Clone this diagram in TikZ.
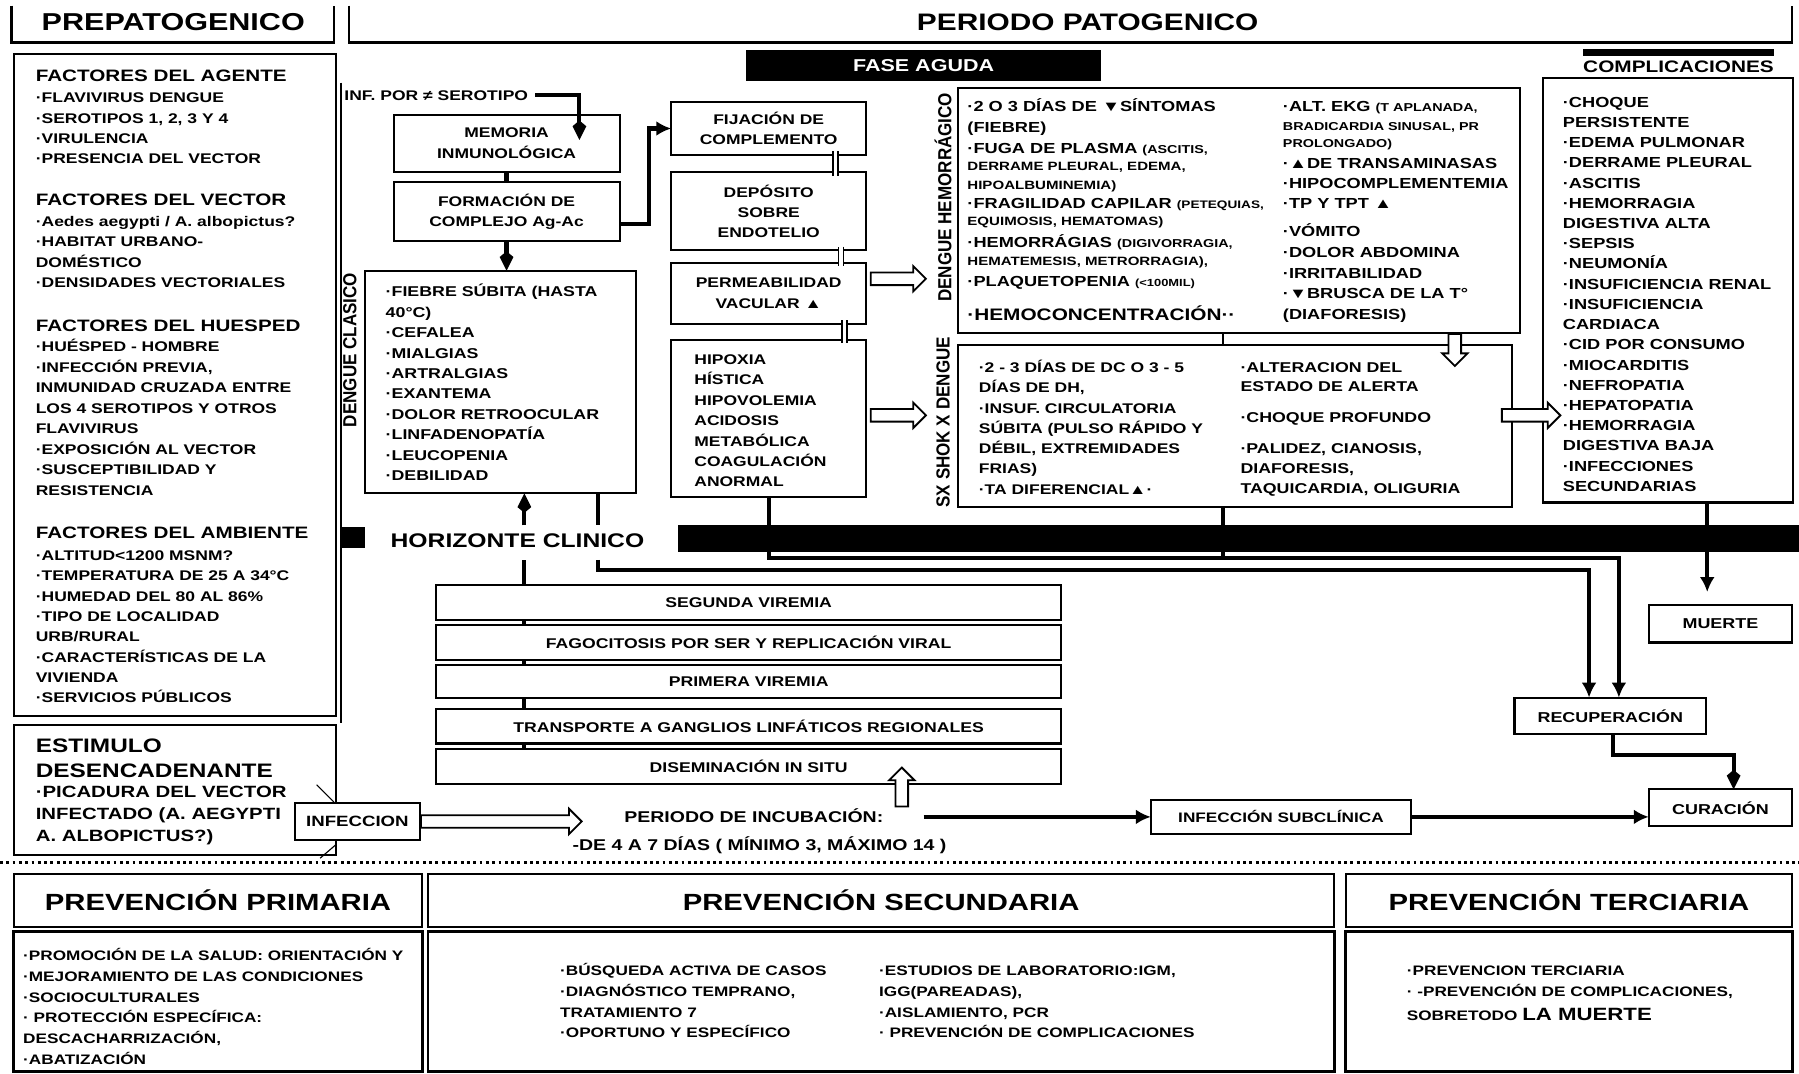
\documentclass[tikz,border=0pt]{standalone}
\usepackage{fontspec}
\setmainfont{Liberation Sans}[FakeStretch=1.25]
\newfontfamily\condf{Liberation Sans}[FakeStretch=0.9]
\usetikzlibrary{arrows.meta,shapes.arrows}
\newcommand\fz[2]{\fontsize{#1}{#2}\selectfont\bfseries}
\tikzset{
  bxs/.style={draw,line width=1.8pt,inner sep=0pt,outer sep=0pt,anchor=north west,align=center},
  thk/.style={line width=3.6pt},
  thn/.style={line width=2.4pt},
  tipL/.style={-{Latex[length=13pt,width=13pt]}},
  tipK/.style={-{Kite[length=17pt,width=12pt,inset=5pt]}},
  harr/.style={single arrow,draw,fill=white,line width=1.6pt,inner sep=2.2pt,single arrow head extend=5.5pt,outer sep=0pt},
  dbl/.style={double,double distance=3pt,line width=1.4pt,shorten <=-3pt,shorten >=-3pt},
  vlab/.style={rotate=90,inner sep=0pt,font=\condf\fontsize{16.5}{16.5}\selectfont\bfseries},
}
\newcommand\tln[5]{\node[anchor=base west,inner sep=0pt,font=\fz{#4}{#4}] (#1) at (#2,{#3+0.358*#4}) {#5};}
\newcommand\blk[6]{\node[anchor=north west,inner sep=0pt,align=left,font=\fz{#4}{#5}] (#1) at (#2,{#3+0.358*#4-#4}) {\rule{0pt}{#4pt}#6};}
\newcommand\bx[6][]{\node[bxs,minimum width={#5-#3},minimum height={#6-#4},#1] (#2) at (#3,#4) {};}
\newcommand\bxt[7][]{\node[bxs,minimum width={#5-#3},minimum height={#6-#4},#1] (#2) at (#3,#4) {#7};}
\begin{document}
\begin{tikzpicture}[x=1pt,y=-1pt]
\useasboundingbox (0,0) rectangle (1568,936);
% ---------- headers
\draw[line width=2.2pt] (10,5) -- (10,37) -- (291,37) -- (291,5);
\draw[line width=2.2pt] (304,5) -- (304,37) -- (1562,37) -- (1562,5);
\node[font=\fz{21.3}{21.3}] (prep) at (151,19) {PREPATOGENICO};
\node[font=\fz{20.8}{20.8}] (pato) at (948,19) {PERIODO PATOGENICO};
% ---------- factors
\bx{fac}{12}{47}{293}{624}
\blk{fa1}{31}{66}{14.4}{17}{FACTORES DEL AGENTE}
\blk{fa2}{31}{85}{12.2}{17.7}{·FLAVIVIRUS DENGUE\\·SEROTIPOS 1, 2, 3 Y 4\\·VIRULENCIA\\·PRESENCIA DEL VECTOR}
\blk{fv1}{31}{174}{14.4}{17}{FACTORES DEL VECTOR}
\blk{fv2}{31}{193}{12.2}{17.7}{·Aedes aegypti / A. albopictus?\\·HABITAT URBANO-\\DOMÉSTICO\\·DENSIDADES VECTORIALES}
\blk{fh1}{31}{284}{14.4}{17}{FACTORES DEL HUESPED}
\blk{fh2}{31}{302}{12.2}{17.86}{·HUÉSPED - HOMBRE\\·INFECCIÓN PREVIA,\\INMUNIDAD CRUZADA ENTRE\\LOS 4 SEROTIPOS Y OTROS\\FLAVIVIRUS\\·EXPOSICIÓN AL VECTOR\\·SUSCEPTIBILIDAD Y\\RESISTENCIA}
\blk{fm1}{31}{464}{14.4}{17}{FACTORES DEL AMBIENTE}
\blk{fm2}{31}{484}{12.2}{17.7}{·ALTITUD<1200 MSNM?\\·TEMPERATURA DE 25 A 34°C\\·HUMEDAD DEL 80 AL 86\%\\·TIPO DE LOCALIDAD\\URB/RURAL\\·CARACTERÍSTICAS DE LA\\VIVIENDA\\·SERVICIOS PÚBLICOS}
% ---------- estimulo
\bx{est}{12}{632}{293}{745}
\blk{es1}{31}{650}{17}{21}{ESTIMULO\\DESENCADENANTE}
\blk{es2}{31}{690}{14.2}{19}{·PICADURA DEL VECTOR\\INFECTADO (A. AEGYPTI\\A. ALBOPICTUS?)}
\bxt[fill=white,font=\fz{13}{13}]{infb}{257}{700}{366}{732}{INFECCION}
\draw[line width=1pt] (276,684) -- (291,699);
\draw[line width=1pt] (279,748) -- (293,736);
\draw[line width=2pt] (297,72) -- (297,630);
% ---------- immunology chain
\node[anchor=west,inner sep=0pt,font=\fz{12.2}{12.2}] (infp) at (300,83) {INF. POR ≠ SEROTIPO};
\bxt[font=\fz{12.2}{18}]{mem}{343}{100}{540}{150}{MEMORIA\\INMUNOLÓGICA}
\bxt[font=\fz{12.2}{18}]{form}{343}{159}{540}{210}{FORMACIÓN DE\\COMPLEJO Ag-Ac}
\bxt[font=\fz{12.2}{18}]{fij}{585}{89}{755}{135}{FIJACIÓN DE\\COMPLEMENTO}
\bxt[font=\fz{12.2}{17.5}]{dep}{585}{150}{755}{218}{DEPÓSITO\\SOBRE\\ENDOTELIO}
\bxt[font=\fz{12.2}{18}]{perm}{585}{229}{755}{282}{PERMEABILIDAD\\VACULAR ▲}
\bx{hip}{585}{296}{755}{433}
\blk{hipt}{605}{313}{12.2}{17.8}{HIPOXIA\\HÍSTICA\\HIPOVOLEMIA\\ACIDOSIS\\METABÓLICA\\COAGULACIÓN\\ANORMAL}
\coordinate (ip1) at (505,80);
\coordinate (ip2) at (505,122);
\draw[thk,tipK] (infp.east) ++(6,0) -- (infp.east -| ip1) -- (ip2);
\draw[thk] (mem.south) -- (form.north);
\coordinate (fj) at (566,195);
\draw[thk,tipL] (form.east |- fj) -- (fj) |- (fij.west);
\coordinate (d1) at (728,0);
\coordinate (d2) at (733,0);
\coordinate (d3) at (736,0);
\draw[dbl] (d1 |- fij.south) -- (d1 |- dep.north);
\draw[dbl] (d2 |- dep.south) -- (d2 |- perm.north);
\draw[dbl] (d3 |- perm.south) -- (d3 |- hip.north);
% ---------- dengue clasico
\bx{dc}{318}{236}{554}{430}
\node[vlab] (dcl) at (305,305) {DENGUE CLASICO};
\blk{dct}{336}{254}{12.4}{17.8}{·FIEBRE SÚBITA (HASTA\\40°C)\\·CEFALEA\\·MIALGIAS\\·ARTRALGIAS\\·EXANTEMA\\·DOLOR RETROOCULAR\\·LINFADENOPATÍA\\·LEUCOPENIA\\·DEBILIDAD}
\draw[thk,tipK] (form.south) -- (form.south |- dc.north);
% ---------- fase aguda
\node[fill=black,text=white,inner sep=0pt,minimum width=310,minimum height=27,font=\fz{15}{15}] (fase) at (805,57) {FASE AGUDA};
% ---------- dengue hemorragico
\bx{dh}{835}{77}{1325}{290}
\node[vlab] (dhl) at (822,172) {DENGUE HEMORRÁGICO};
\tln{h1}{843}{93}{12.7}{·2 O 3 DÍAS DE ▼SÍNTOMAS}
\tln{h2}{843}{111}{12.7}{(FIEBRE)}
\tln{h3}{843}{129}{12.7}{·FUGA DE PLASMA {\fontsize{10}{10}\selectfont (ASCITIS,}}
\tln{h4}{843}{145}{10.5}{DERRAME PLEURAL, EDEMA,}
\tln{h5}{843}{161}{10.5}{HIPOALBUMINEMIA)}
\tln{h6}{843}{177}{12.7}{·FRAGILIDAD CAPILAR {\fontsize{9.5}{9.5}\selectfont (PETEQUIAS,}}
\tln{h7}{843}{193}{10.5}{EQUIMOSIS, HEMATOMAS)}
\tln{h8}{843}{211}{12.7}{·HEMORRÁGIAS {\fontsize{10}{10}\selectfont (DIGIVORRAGIA,}}
\tln{h9}{843}{228}{10.5}{HEMATEMESIS, METRORRAGIA),}
\tln{h10}{843}{245}{12.7}{·PLAQUETOPENIA {\fontsize{9}{9}\selectfont (<100MIL)}}
\tln{h11}{843}{274}{14.5}{·HEMOCONCENTRACIÓN··}
\tln{r1}{1118}{93}{12.7}{·ALT. EKG {\fontsize{10}{10}\selectfont (T APLANADA,}}
\tln{r2}{1118}{110}{10}{BRADICARDIA SINUSAL, PR}
\tln{r3}{1118}{125}{10}{PROLONGADO)}
\tln{r4}{1118}{142}{12.7}{·▲DE TRANSAMINASAS}
\tln{r5}{1118}{160}{12.7}{·HIPOCOMPLEMENTEMIA}
\tln{r6}{1118}{177}{12.7}{·TP Y TPT ▲}
\tln{r7}{1118}{202}{12.7}{·VÓMITO}
\tln{r8}{1118}{220}{12.7}{·DOLOR ABDOMINA}
\tln{r9}{1118}{238}{12.7}{·IRRITABILIDAD}
\tln{r10}{1118}{256}{12.7}{·▼BRUSCA DE LA T°}
\tln{r11}{1118}{274}{12.7}{(DIAFORESIS)}
% ---------- shock
\bx{sx}{835}{301}{1318}{442}
\node[vlab] (sxl) at (822,368) {SX SHOK X DENGUE};
\blk{sxt}{853}{320}{12.2}{17.7}{·2 - 3 DÍAS DE DC O 3 - 5\\DÍAS DE DH,\\·INSUF. CIRCULATORIA\\SÚBITA (PULSO RÁPIDO Y\\DÉBIL, EXTREMIDADES\\FRIAS)\\·TA DIFERENCIAL▲·}
\tln{s1}{1081}{320}{12.4}{·ALTERACION DEL}
\tln{s2}{1081}{337}{12.4}{ESTADO DE ALERTA}
\tln{s3}{1081}{364}{12.4}{·CHOQUE PROFUNDO}
\tln{s4}{1081}{391}{12.4}{·PALIDEZ, CIANOSIS,}
\tln{s5}{1081}{408}{12.4}{DIAFORESIS,}
\tln{s6}{1081}{426}{12.4}{TAQUICARDIA, OLIGURIA}
% ---------- complicaciones
\fill (1380,43) rectangle (1546,49);
\node[font=\fz{14.5}{14.5}] (compl) at (1463,58) {COMPLICACIONES};
\bx{comp}{1345}{68}{1563}{438}
\blk{compt}{1362}{88.6}{12.7}{17.63}{·CHOQUE\\PERSISTENTE\\·EDEMA PULMONAR\\·DERRAME PLEURAL\\·ASCITIS\\·HEMORRAGIA\\DIGESTIVA ALTA\\·SEPSIS\\·NEUMONÍA\\·INSUFICIENCIA RENAL\\·INSUFICIENCIA\\CARDIACA\\·CID POR CONSUMO\\·MIOCARDITIS\\·NEFROPATIA\\·HEPATOPATIA\\·HEMORRAGIA\\DIGESTIVA BAJA\\·INFECCIONES\\SECUNDARIAS}
% ---------- hollow arrows
\node[harr,minimum height=48,anchor=tail] (ha1) at (759,243) {\rule{0pt}{5pt}};
\node[harr,minimum height=48,anchor=tail] (ha2) at (759,362) {\rule{0pt}{5pt}};
\node[harr,minimum height=28,rotate=270,anchor=tail] (ha3) at (1268,291) {\rule{0pt}{5pt}};
\node[harr,minimum height=51,anchor=tail] (ha4) at (1309,362) {\rule{0pt}{5pt}};
% ---------- horizonte clinico
\fill (591,458) rectangle (1568,481);
\fill (297,459) rectangle (318,478);
\node[font=\fz{17.2}{17.2}] (hor) at (451,471) {HORIZONTE CLINICO};
% ---------- stack
\bxt[font=\fz{12.3}{12.3}]{sv2}{380}{510}{925}{540}{SEGUNDA VIREMIA}
\bxt[font=\fz{12.3}{12.3}]{fag}{380}{545}{925}{575}{FAGOCITOSIS POR SER Y REPLICACIÓN VIRAL}
\bxt[font=\fz{12.3}{12.3}]{pv1}{380}{580}{925}{608}{PRIMERA VIREMIA}
\bxt[font=\fz{12.3}{12.3}]{trn}{380}{618}{925}{648}{TRANSPORTE A GANGLIOS LINFÁTICOS REGIONALES}
\bxt[font=\fz{12.3}{12.3}]{dis}{380}{653}{925}{683}{DISEMINACIÓN IN SITU}
\coordinate (sk) at (457,0);
\draw[thk] (sk |- sv2.south) -- (sk |- fag.north);
\draw[thk] (sk |- fag.south) -- (sk |- pv1.north);
\draw[thk] (sk |- pv1.south) -- (sk |- trn.north);
\draw[thk] (sk |- trn.south) -- (sk |- dis.north);
\draw[thk] (sk |- sv2.north) -- (457,488);
\draw[thk,tipK] (457,458) -- (sk |- dc.south);
% ---------- outcome lines
\coordinate (k0) at (670,486);
\coordinate (k1) at (1411,486);
\coordinate (k2) at (1066,486);
\coordinate (k3) at (521,497);
\coordinate (k4) at (1385,497);
\bxt[font=\fz{12.5}{12.5}]{mue}{1437}{527}{1562}{560}{MUERTE}
\bxt[font=\fz{12.5}{12.5}]{rec}{1320}{608}{1487}{640}{RECUPERACIÓN}
\bxt[font=\fz{12.5}{12.5}]{cur}{1437}{688}{1562}{720}{CURACIÓN}
\bxt[font=\fz{12}{12}]{isub}{1003}{697}{1230}{727}{INFECCIÓN SUBCLÍNICA}
\draw[thk,tipL] (hip.south) -- (k0) -- (k1) -- (k1 |- rec.north);
\draw[thk] (k2 |- sx.south) -- (k2);
\draw[thn] (k2 |- dh.south) -- (k2 |- sx.north);
\draw[thk] (k3 |- dc.south) -- (521,458);
\draw[thk,tipL] (521,488) -- (k3) -- (k4) -- (k4 |- rec.north);
\coordinate (mt) at (1488,0);
\draw[thk,tipL,shorten >=11pt] (mt |- comp.south) -- (mt |- mue.north);
\coordinate (rc1) at (1406,658);
\coordinate (rc2) at (1511,658);
\draw[thk,tipK] (rc1 |- rec.south) -- (rc1) -- (rc2) -- (rc2 |- cur.north);
% ---------- incubation
\node[harr,minimum height=140,anchor=tail] (ha5) at (367,716) {\rule{0pt}{5pt}};
\node[harr,minimum height=34,rotate=90,anchor=tail] (ha6) at (786,703) {\rule{0pt}{5pt}};
\node[font=\fz{13.6}{13.6}] (pinc) at (657,711) {PERIODO DE INCUBACIÓN:};
\node[font=\fz{13.6}{13.6}] (pdias) at (662,737) {-DE 4 A 7 DÍAS ( MÍNIMO 3, MÁXIMO 14 )};
\coordinate (pl) at (805,712);
\draw[thk,tipL] (pl) -- (pl -| isub.west);
\draw[thk,tipL] (isub.east) -- (isub.east -| cur.west);
% ---------- prevention
\draw[line width=2.5pt,dash pattern=on 2.5pt off 3pt] (0,752) -- (1568,752);
\bxt[font=\fz{20.4}{20.4},line width=1.5pt]{pph}{12}{762}{368}{808}{PREVENCIÓN PRIMARIA}
\bxt[font=\fz{20.4}{20.4},line width=1.5pt]{psh}{373}{762}{1163}{808}{PREVENCIÓN SECUNDARIA}
\bxt[font=\fz{20.4}{20.4},line width=1.5pt]{pth}{1173}{762}{1562}{808}{PREVENCIÓN TERCIARIA}
\bx[line width=2.5pt]{ppc}{12}{812}{368}{934}
\bx[line width=2.5pt]{psc}{373}{812}{1163}{934}
\bx[line width=2.5pt]{ptc}{1173}{812}{1562}{934}
\blk{ppt}{20}{833}{12}{18}{·PROMOCIÓN DE LA SALUD: ORIENTACIÓN Y\\·MEJORAMIENTO DE LAS CONDICIONES\\·SOCIOCULTURALES\\· PROTECCIÓN ESPECÍFICA:\\DESCACHARRIZACIÓN,\\·ABATIZACIÓN}
\blk{pst1}{488}{846}{12}{18}{·BÚSQUEDA ACTIVA DE CASOS\\·DIAGNÓSTICO TEMPRANO,\\TRATAMIENTO 7\\·OPORTUNO Y ESPECÍFICO}
\blk{pst2}{766}{846}{12}{18}{·ESTUDIOS DE LABORATORIO:IGM,\\IGG(PAREADAS),\\·AISLAMIENTO, PCR\\· PREVENCIÓN DE COMPLICACIONES}
\blk{ptt}{1226}{846}{12}{18}{·PREVENCION TERCIARIA\\· -PREVENCIÓN DE COMPLICACIONES,}
\tln{ptt2}{1226}{885}{12}{SOBRETODO {\fontsize{15.5}{15.5}\selectfont LA MUERTE}}
\end{tikzpicture}
\end{document}
